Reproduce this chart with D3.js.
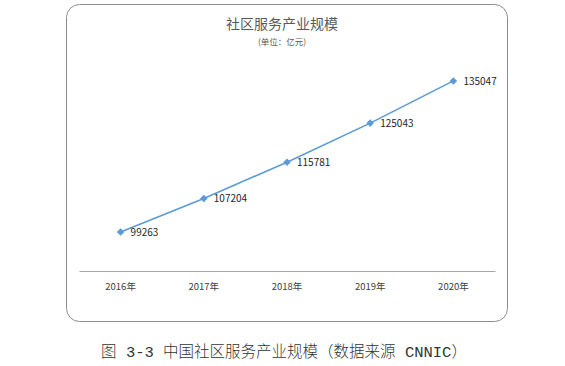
<!DOCTYPE html>
<html>
<head>
<meta charset="utf-8">
<script src="https://cdn.jsdelivr.net/npm/d3@7"></script>
<style>
  body { margin: 0; background: #fff; }
  text { font-family: "Noto Sans CJK SC", "Noto Sans", sans-serif; }
</style>
</head>
<body>
<div id="chart-area"></div>
<script>
const years = ["2016年", "2017年", "2018年", "2019年", "2020年"]
const values = [99263, 107204, 115781, 125043, 135047]
const title = "社区服务产业规模"
const subtitle = "(单位：亿元)"
const caption = "图 3-3 中国社区服务产业规模（数据来源 CNNIC）"

const W = 565, H = 366
const PLOT = {LEFT: 79, RIGHT: 495, TOP: 60, BOTTOM: 271}

const svg = d3.select("#chart-area").append("svg")
  .attr("width", W)
  .attr("height", H)

// chart frame
svg.append("rect")
  .attr("x", 66.5).attr("y", 4.5)
  .attr("width", 441).attr("height", 317)
  .attr("rx", 13).attr("ry", 13)
  .attr("fill", "#fff")
  .attr("stroke", "#8c8c8c")
  .attr("stroke-width", 1)

svg.append("text")
  .attr("x", 282).attr("y", 29)
  .attr("text-anchor", "middle")
  .attr("font-size", "14px")
  .attr("fill", "#595959")
  .text(title)

svg.append("text")
  .attr("x", 282).attr("y", 45)
  .attr("text-anchor", "middle")
  .attr("font-size", "8.5px")
  .attr("fill", "#595959")
  .text(subtitle)

const x = d3.scaleBand()
  .domain(years)
  .range([PLOT.LEFT, PLOT.RIGHT])

const y = d3.scaleLinear()
  .domain([90000, 140000])
  .range([PLOT.BOTTOM, PLOT.TOP])

const xAxis = svg.append("g")
  .attr("transform", `translate(0, ${PLOT.BOTTOM})`)
  .call(d3.axisBottom(x).tickSize(0).tickPadding(12))
xAxis.select(".domain").attr("stroke", "#a6a6a6").attr("stroke-width", 1.2)
xAxis.selectAll("text")
  .attr("font-size", "9.5px")
  .attr("fill", "#404040")
  .style("font-family", "\"Noto Sans CJK SC\", sans-serif")

const cx = d => x(d.year) + x.bandwidth() / 2
const data = years.map((yr, i) => ({year: yr, value: values[i]}))

const line = d3.line()
  .x(cx)
  .y(d => y(d.value))

svg.append("path")
  .datum(data)
  .attr("d", line)
  .attr("fill", "none")
  .attr("stroke", "#5b9bd5")
  .attr("stroke-width", 1.6)

svg.selectAll(".pt").data(data).enter().append("path")
  .attr("class", "pt")
  .attr("d", d3.symbol(d3.symbolDiamond2, 36))
  .attr("transform", d => `translate(${cx(d)}, ${y(d.value)})`)
  .attr("fill", "#5b9bd5")

svg.selectAll(".lbl").data(data).enter().append("text")
  .attr("class", "lbl")
  .attr("x", d => cx(d) + 10)
  .attr("y", d => y(d.value) + 4)
  .attr("font-size", "10px")
  .attr("fill", "#262626")
  .text(d => d.value)

// caption under the frame, monospace latin + CJK
svg.append("text")
  .attr("x", 284).attr("y", 357)
  .attr("text-anchor", "middle")
  .attr("font-size", "15.5px")
  .attr("fill", "#333")
  .style("font-family", "\"Liberation Mono\", \"Noto Sans CJK SC\", monospace")
  .style("font-weight", 300)
  .text(caption)
</script>
</body>
</html>
